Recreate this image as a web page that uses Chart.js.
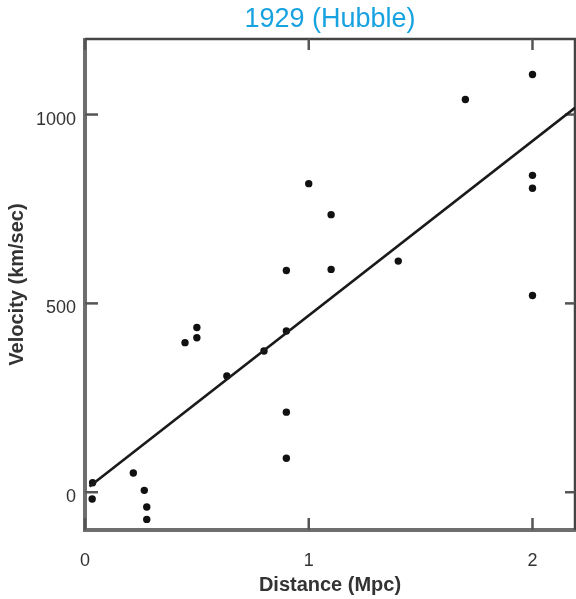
<!DOCTYPE html>
<html>
<head>
<meta charset="utf-8">
<script src="https://cdn.jsdelivr.net/npm/chart.js@4"></script>
<style>
  html, body { margin: 0; padding: 0; background: #fff; }
  #wrap { width: 576px; height: 599px; }
</style>
</head>
<body>
<div id="wrap"><canvas id="c" width="576" height="599"></canvas></div>
<script>
// ---- data ----
const distance = [0.034, 0.032, 0.216, 0.265, 0.276, 0.276, 0.447, 0.50, 0.50, 0.634, 0.80, 0.90, 0.90, 0.90, 0.90, 1.00, 1.10, 1.10, 1.40, 1.70, 2.00, 2.00, 2.00, 2.00];
const velocity = [25, -18, 51, 5, -39, -72, 396, 436, 409, 308, 374, 587, 427, 212, 90, 817, 735, 590, 612, 1040, 1106, 839, 805, 521];
const fitX = [0.02, 2.19];
const fitY = [15, 1018];
const xTicks = [0, 1, 2];
const yTicks = [0, 500, 1000];
const xRange = [0, 2.19];
const yRange = [-100, 1200];

const points = distance.map((d, i) => ({ x: d, y: velocity[i] }));
const fitLine = fitX.map((d, i) => ({ x: d, y: fitY[i] }));

const frame = {
  id: 'frame',
  beforeDatasetsDraw(chart) {
    const { ctx, chartArea: { left, right, top, bottom }, scales: { x, y } } = chart;
    const seg = (x1, y1, x2, y2) => { ctx.beginPath(); ctx.moveTo(x1, y1); ctx.lineTo(x2, y2); ctx.stroke(); };
    ctx.save();
    ctx.lineCap = 'butt';
    // left & bottom (thicker, lighter)
    ctx.strokeStyle = '#6e6e6e'; ctx.lineWidth = 4;
    seg(left, top - 1, left, bottom + 2);
    seg(left - 2, bottom, right + 1, bottom);
    // top & right (thinner, darker)
    ctx.strokeStyle = '#444'; ctx.lineWidth = 2.5;
    seg(left, top, right + 1, top);
    seg(right, top, right, bottom);
    // inward ticks
    ctx.strokeStyle = '#555'; ctx.lineWidth = 2.5;
    xTicks.forEach(v => {
      const px = x.getPixelForValue(v);
      seg(px, bottom, px, bottom - 12);
      seg(px, top, px, top + 11);
    });
    yTicks.forEach(v => {
      const py = y.getPixelForValue(v);
      seg(left, py, left + 13, py);
      seg(right, py, right - 10, py);
    });
    ctx.restore();
  }
};

const tickFont = { family: "'Liberation Sans', Arial, sans-serif", size: 18 };
const titleFont = { family: "'Liberation Sans', Arial, sans-serif", size: 20, weight: 'bold' };

new Chart(document.getElementById('c'), {
  type: 'scatter',
  data: {
    datasets: [
      {
        type: 'line',
        data: fitLine,
        borderColor: '#1a1a1a',
        borderWidth: 2.6,
        pointRadius: 0,
        fill: false,
        tension: 0
      },
      {
        data: points,
        backgroundColor: '#111',
        borderColor: '#111',
        pointRadius: 3.7,
        pointBorderWidth: 0
      }
    ]
  },
  options: {
    responsive: false,
    animation: false,
    devicePixelRatio: 1,
    layout: { autoPadding: false, padding: { left: 0, right: 1, top: 0, bottom: 0 } },
    plugins: {
      legend: { display: false },
      tooltip: { enabled: false },
      title: {
        display: true,
        fullSize: false,
        text: '1929 (Hubble)',
        color: '#17a2e0',
        font: { family: "'Liberation Sans', Arial, sans-serif", size: 27, weight: 'normal' },
        padding: { top: 3, bottom: 3.6 }
      }
    },
    scales: {
      x: {
        type: 'linear',
        min: xRange[0], max: xRange[1],
        grid: { display: false, drawTicks: false },
        border: { display: false },
        afterBuildTicks: s => { s.ticks = xTicks.map(v => ({ value: v })); },
        afterFit: s => { s.height = 69; },
        ticks: { color: '#333', font: tickFont, padding: 20, maxRotation: 0, autoSkip: false, callback: v => String(v) },
        title: { display: true, text: 'Distance (Mpc)', color: '#333', font: titleFont, padding: { top: 0, bottom: 2 } }
      },
      y: {
        type: 'linear',
        min: yRange[0], max: yRange[1],
        grid: { display: false, drawTicks: false },
        border: { display: false },
        afterBuildTicks: s => { s.ticks = yTicks.map(v => ({ value: v })); },
        afterFit: s => { s.width = 85; },
        ticks: { color: '#333', font: tickFont, padding: 9, labelOffset: 5, autoSkip: false, callback: v => String(v) },
        title: { display: true, text: 'Velocity (km/sec)', color: '#333', font: titleFont, padding: { top: 5, bottom: 0 } }
      }
    }
  },
  plugins: [frame]
});
</script>
</body>
</html>
